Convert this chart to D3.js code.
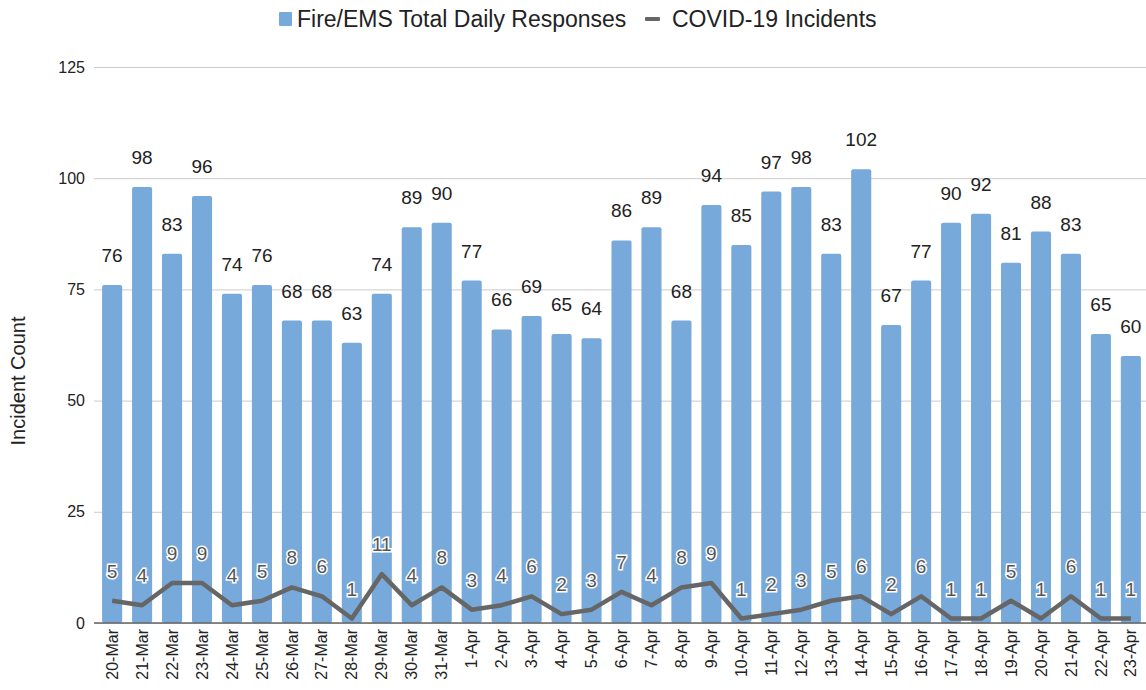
<!DOCTYPE html>
<html>
<head>
<meta charset="utf-8">
<script src="https://cdn.jsdelivr.net/npm/d3@7"></script>
<style>
  body { margin: 0; background: #fff; }
  text { font-family: "Liberation Sans", Arial, sans-serif; }
</style>
</head>
<body>
<svg width="1146" height="690"></svg>
<script>
let days = ['20-Mar', '21-Mar', '22-Mar', '23-Mar', '24-Mar', '25-Mar', '26-Mar', '27-Mar', '28-Mar', '29-Mar',
  '30-Mar', '31-Mar', '1-Apr', '2-Apr', '3-Apr', '4-Apr', '5-Apr', '6-Apr', '7-Apr', '8-Apr', '9-Apr', '10-Apr',
  '11-Apr', '12-Apr', '13-Apr', '14-Apr', '15-Apr', '16-Apr', '17-Apr', '18-Apr', '19-Apr', '20-Apr', '21-Apr',
  '22-Apr', '23-Apr'];
let responses = [76, 98, 83, 96, 74, 76, 68, 68, 63, 74, 89, 90, 77, 66, 69, 65, 64, 86, 89, 68, 94, 85,
  97, 98, 83, 102, 67, 77, 90, 92, 81, 88, 83, 65, 60];
let covid = [5, 4, 9, 9, 4, 5, 8, 6, 1, 11, 4, 8, 3, 4, 6, 2, 3, 7, 4, 8, 9, 1,
  2, 3, 5, 6, 2, 6, 1, 1, 5, 1, 6, 1, 1];
let yTicks = [0, 25, 50, 75, 100, 125];

let svg = d3.select('svg');
let marge = { top: 67, bottom: 67, left: 97, right: 0 };
let width = 1146 - marge.left - marge.right;
let height = 690 - marge.top - marge.bottom;
let g = svg.append('g')
  .attr('transform', 'translate(' + marge.left + ',' + marge.top + ')');

let x = d3.scaleBand().domain(days).range([0, width]).paddingInner(0.33).paddingOuter(0.17);
let y = d3.scaleLinear().domain([0, 125]).range([height, 0]);

// gridlines + y labels
let yAxis = g.append('g')
  .call(d3.axisLeft(y).tickValues(yTicks).tickSize(-width - 3).tickPadding(12));
yAxis.select('.domain').remove();
yAxis.selectAll('.tick line').attr('stroke', '#cccccc').attr('transform', 'translate(-3,0)');
yAxis.selectAll('.tick text').attr('font-size', 16).attr('fill', '#222');

g.append('text')
  .attr('transform', 'translate(' + (-72) + ',' + 314 + ') rotate(-90)')
  .attr('text-anchor', 'middle')
  .attr('font-size', 20)
  .attr('fill', '#222')
  .text('Incident Count');

// bars
g.append('g')
  .selectAll('rect')
  .data(responses)
  .enter()
  .append('rect')
  .attr('x', function(d, i) { return x(days[i]); })
  .attr('y', function(d) { return y(d); })
  .attr('width', x.bandwidth())
  .attr('height', function(d) { return height - y(d); })
  .attr('rx', 2)
  .attr('fill', '#77a9da');

g.append('g')
  .selectAll('text')
  .data(responses)
  .enter()
  .append('text')
  .attr('x', function(d, i) { return x(days[i]) + x.bandwidth() / 2; })
  .attr('y', function(d) { return y(d) - 23; })
  .attr('text-anchor', 'middle')
  .attr('font-size', 19)
  .attr('fill', '#222')
  .text(function(d) { return d; });

// x axis
let xAxis = g.append('g')
  .attr('transform', 'translate(0,' + height + ')')
  .call(d3.axisBottom(x).tickSize(0).tickPadding(6));
xAxis.select('.domain').remove();
xAxis.selectAll('.tick text')
  .attr('font-size', 16)
  .attr('fill', '#222')
  .attr('transform', 'rotate(-90)')
  .attr('text-anchor', 'end')
  .attr('x', -6)
  .attr('y', 0)
  .attr('dy', '0.35em');

g.append('line')
  .attr('x1', -3).attr('x2', width)
  .attr('y1', height).attr('y2', height)
  .attr('stroke', '#666').attr('stroke-width', 1.5);

// covid line
let line = d3.line()
  .x(function(d, i) { return x(days[i]) + x.bandwidth() / 2; })
  .y(function(d) { return y(d); });
g.append('path')
  .datum(covid)
  .attr('d', line)
  .attr('fill', 'none')
  .attr('stroke', '#666666')
  .attr('stroke-width', 4.5)
  .attr('stroke-linejoin', 'round');

g.append('g')
  .selectAll('text')
  .data(covid)
  .enter()
  .append('text')
  .attr('x', function(d, i) { return x(days[i]) + x.bandwidth() / 2; })
  .attr('y', function(d) { return y(d) - 23; })
  .attr('text-anchor', 'middle')
  .attr('font-size', 19)
  .attr('fill', '#555')
  .attr('stroke', '#ffffff')
  .attr('stroke-width', 3)
  .attr('paint-order', 'stroke')
  .text(function(d) { return d; });

// legend
let legend = svg.append('g');
legend.append('rect')
  .attr('x', 279).attr('y', 12).attr('width', 13).attr('height', 14).attr('rx', 1)
  .attr('fill', '#77a9da');
legend.append('text')
  .attr('x', 297).attr('y', 27)
  .attr('font-size', 23).attr('fill', '#222')
  .text('Fire/EMS Total Daily Responses');
legend.append('rect')
  .attr('x', 645).attr('y', 17).attr('width', 15).attr('height', 4).attr('rx', 1)
  .attr('fill', '#666666');
legend.append('text')
  .attr('x', 672).attr('y', 27)
  .attr('font-size', 23).attr('fill', '#222')
  .text('COVID-19 Incidents');
</script>
</body>
</html>
